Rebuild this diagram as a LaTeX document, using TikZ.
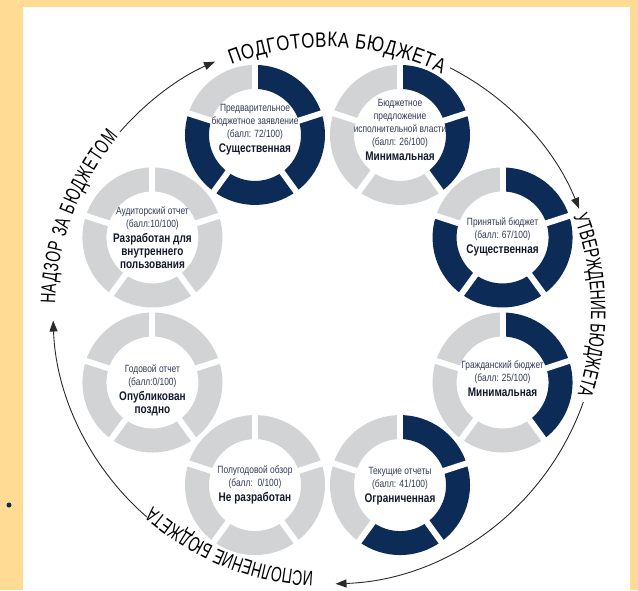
\documentclass[tikz,border=0pt]{standalone}
\usepackage{fontspec}
\setmainfont{Liberation Sans}
\newfontfamily\ringfont[FakeStretch=0.8]{Liberation Sans}
\newfontfamily\stagefont[FakeStretch=0.66]{Liberation Sans}
\newfontfamily\stagewide[FakeStretch=0.8]{Liberation Sans}
\usetikzlibrary{calc,arrows.meta,decorations.text}
\definecolor{obinavy}{HTML}{0D2B57}
\definecolor{obigrey}{HTML}{D1D3D4}
\definecolor{slidebg}{HTML}{FFDB94}
\definecolor{ringtext}{HTML}{2F3A55}
\definecolor{ringbold}{HTML}{141A2A}
\definecolor{cycleline}{HTML}{2A2A2A}
\newcommand{\grade}[1]{{\fontsize{12.5}{14}\selectfont\bfseries\color{ringbold}#1}}

\begin{document}
\begin{tikzpicture}[
    x=1pt, y=1pt,
    ringlabel/.style={
        font=\ringfont\fontsize{10.5}{13}\selectfont,
        text=ringtext,
        align=center,
        inner sep=0pt
    },
    cycle/.style={
        draw=cycleline,
        line width=0.9pt,
        -{Triangle[length=11pt, width=8pt]}
    },
    stage/.style={
        decorate,
        decoration={
            text along path,
            text align=fit to path,
            text color=black,
            text={|\stagefont\fontsize{21}{21}\selectfont|#1}
        }
    },
    stagetop/.style={
        decorate,
        decoration={
            text along path,
            text align=fit to path,
            text color=black,
            text={|\stagewide\fontsize{21}{21}\selectfont|#1}
        }
    }
]
\useasboundingbox (0,0) rectangle (638,590);
\fill[slidebg] (0,0) rectangle (638,590);
\fill[white] (23,0) rectangle (630,583);
\fill[obinavy] (9,85) circle (2.5pt);

\coordinate (hub) at (327.5,280);
\coordinate (cyc) at (326,279);

% rings: angle on the octagon / number of dark segments
\foreach \ang/\dark [count=\i] in {112.5/4, 67.5/2, 22.5/4, -22.5/2, -67.5/3, -112.5/0, -157.5/0, 157.5/0}{
    \coordinate (ring\i) at ($(hub)+(\ang:189.5pt)$);
    \foreach \k in {0,...,4}{
        \pgfmathsetmacro{\segA}{90-72*\k}
        \pgfmathsetmacro{\segB}{18-72*\k}
        \ifnum\k<\dark \def\segcol{obinavy}\else\def\segcol{obigrey}\fi
        \fill[\segcol] ($(ring\i)+(\segA:70pt)$) arc[start angle=\segA, end angle=\segB, radius=70pt]
            -- ($(ring\i)+(\segB:46pt)$) arc[start angle=\segB, end angle=\segA, radius=46pt] -- cycle;
    }
    \foreach \k in {0,...,4}{
        \pgfmathsetmacro{\segA}{90-72*\k}
        \draw[white, line width=6pt] ($(ring\i)+(\segA:43pt)$) -- ($(ring\i)+(\segA:73pt)$);
    }
}

\node[ringlabel, yshift=5pt] (prelim) at (ring1)
{Предварительное\\бюджетное заявление\\(балл: 72/100)\\[2pt]\grade{Существенная}};
\node[ringlabel, yshift=5pt] (execprop) at (ring2)
{Бюджетное\\предложение\\исполнительной власти\\(балл: 26/100)\\[2pt]\grade{Минимальная}};
\node[ringlabel, yshift=1pt] (enacted) at (ring3)
{Принятый бюджет\\(балл: 67/100)\\[2pt]\grade{Существенная}};
\node[ringlabel, yshift=4pt] (citizens) at (ring4)
{Гражданский бюджет\\(балл: 25/100)\\[2pt]\grade{Минимальная}};
\node[ringlabel, yshift=-1pt] (inyear) at (ring5)
{Текущие отчеты\\(балл: 41/100)\\[2pt]\grade{Ограниченная}};
\node[ringlabel] (midyear) at (ring6)
{Полугодовой обзор\\(балл:\ \ 0/100)\\[2pt]\grade{Не разработан}};
\node[ringlabel, yshift=-8pt] (yearend) at (ring7)
{Годовой отчет\\(балл:0/100)\\[2pt]\grade{Опубликован}\\\grade{поздно}};
\node[ringlabel] (audit) at (ring8)
{Аудиторский отчет\\(балл:10/100)\\[2pt]\grade{Разработан для}\\\grade{внутреннего}\\\grade{пользования}};

% budget cycle
\draw[cycle] ($(cyc)+(63:273pt)$) arc[start angle=63, end angle=22, radius=273pt];
\draw[cycle] ($(cyc)+(-19.5:273pt)$) arc[start angle=-19.5, end angle=-88, radius=273pt];
\draw[cycle] ($(cyc)+(229:273pt)$) arc[start angle=229, end angle=182, radius=273pt];
\draw[cycle] ($(cyc)+(139:273pt)$) arc[start angle=139, end angle=114, radius=273pt];

\path[stagetop={ПОДГОТОВКА БЮДЖЕТА}] ($(cyc)+(111:264pt)$) arc[start angle=111, end angle=64, radius=264pt];
\path[stage={УТВЕРЖДЕНИЕ БЮДЖЕТА}] ($(cyc)+(21:265pt)$) arc[start angle=21, end angle=-18, radius=265pt];
\path[stage={ИСПОЛНЕНИЕ БЮДЖЕТА}] ($(cyc)+(-92.8:261pt)$) arc[start angle=-92.8, end angle=-131.5, radius=261pt];
\path[stage={НАДЗОР ЗА БЮДЖЕТОМ}] ($(cyc)+(178.5:271pt)$) arc[start angle=178.5, end angle=140, radius=271pt];

\end{tikzpicture}
\end{document}
